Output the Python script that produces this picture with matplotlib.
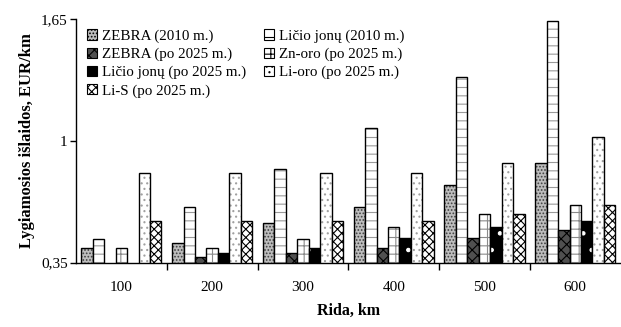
import numpy as np
import matplotlib
matplotlib.use("Agg")
import matplotlib.pyplot as plt
from matplotlib.patches import Patch

plt.rcParams['font.family'] = ['Liberation Serif', 'DejaVu Serif']
plt.rcParams['hatch.linewidth'] = 0.8

# duomenys
ridos = ['100', '200', '300', '400', '500', '600']
zebra_2010 = [0.43, 0.454, 0.563, 0.649, 0.765, 0.881]
licio_2010 = [0.477, 0.649, 0.85, 1.068, 1.339, 1.64]
zebra_2025 = [0.34, 0.378, 0.40, 0.43, 0.48, 0.525]
zn_oro = [0.43, 0.43, 0.477, 0.54, 0.611, 0.656]
licio_2025 = [0.34, 0.40, 0.43, 0.48, 0.542, 0.574]
li_oro = [0.827, 0.827, 0.827, 0.827, 0.88, 1.021]
li_s = [0.572, 0.572, 0.572, 0.574, 0.611, 0.656]

serijos = [
    ('ZEBRA (2010 m.)', zebra_2010, '#bdbdbd', '.....', '#404040'),
    ('Ličio jonų (2010 m.)', licio_2010, 'white', '--', '#9a9a9a'),
    ('ZEBRA (po 2025 m.)', zebra_2025, '#505050', 'xxx', 'black'),
    ('Zn-oro (po 2025 m.)', zn_oro, 'white', '++', '#8a8a8a'),
    ('Ličio jonų (po 2025 m.)', licio_2025, 'black', '.', 'white'),
    ('Li-oro (po 2025 m.)', li_oro, 'white', '...', '#a0a0a0'),
    ('Li-S (po 2025 m.)', li_s, 'white', 'xxxx', 'black'),
]

fig = plt.figure(figsize=(6.21, 3.27), dpi=100)
ax = fig.add_axes([0.1224, 0.197, 0.877, 0.745])

x = np.arange(len(ridos))
w = 0.126
handles = {}
for j, (nm, vals, fc, h, hc) in enumerate(serijos):
    pos = x + (j - 3) * w
    ax.bar(pos, vals, w, color=fc, hatch=h, edgecolor=hc, linewidth=0)
    ax.bar(pos, vals, w, fill=False, edgecolor='black', linewidth=1.0)
    handles[nm] = Patch(facecolor=fc, hatch=h, edgecolor='black', linewidth=0.8)

ax.set_ylim(0.35, 1.65)
ax.set_xlim(-0.5, 5.5)
ax.set_yticks([0.35, 1, 1.65])
ax.set_yticklabels(['0,35', '1', '1,65'], fontsize=11)
ax.set_xticks(np.arange(0.5, 5, 1))
ax.set_xticklabels([])
ax.set_xticks(x, minor=True)
ax.set_xticklabels(ridos, minor=True, fontsize=11)
ax.tick_params(axis='x', which='major', length=5, width=1)
ax.tick_params(axis='x', which='minor', length=0, pad=13)
ax.tick_params(axis='y', length=4, width=1, pad=2)

for s in ['top', 'right']:
    ax.spines[s].set_visible(False)
ax.spines['left'].set_linewidth(1.0)
ax.spines['bottom'].set_linewidth(1.0)

ax.set_ylabel('Lygiamosios išlaidos, EUR/km', fontsize=12, fontweight='bold', labelpad=4)
ax.set_xlabel('Rida, km', fontsize=11.5, fontweight='bold', labelpad=7)

tvarka = ['ZEBRA (2010 m.)', 'ZEBRA (po 2025 m.)', 'Ličio jonų (po 2025 m.)', 'Li-S (po 2025 m.)',
          'Ličio jonų (2010 m.)', 'Zn-oro (po 2025 m.)', 'Li-oro (po 2025 m.)']
ax.legend([handles[t] for t in tvarka], tvarka, ncol=2, frameon=False, loc='upper left',
          bbox_to_anchor=(0.0, 1.0), fontsize=10.8, handlelength=0.7, handleheight=0.7,
          handletextpad=0.3, columnspacing=1.2, labelspacing=0.3, borderaxespad=0.3)

fig.savefig('out.png', dpi=100)
